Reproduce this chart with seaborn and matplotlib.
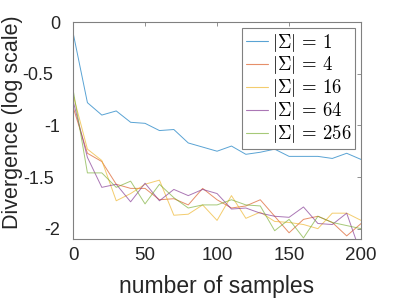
import numpy as np
import pandas as pd
import matplotlib
matplotlib.use("Agg")
import matplotlib.pyplot as plt
import matplotlib.transforms as mtransforms
import seaborn as sns

samples = [0, 10, 20, 30, 40, 50, 60, 70, 80, 90, 100, 110, 120, 130, 140, 150, 160, 170, 180, 190, 200]
div_1 = [-0.10, -0.78, -0.90, -0.86, -0.97, -0.98, -1.05, -1.04, -1.17, -1.21, -1.25,
         -1.20, -1.28, -1.26, -1.23, -1.30, -1.30, -1.30, -1.32, -1.27, -1.33]
div_4 = [-0.82, -1.27, -1.35, -1.57, -1.61, -1.61, -1.72, -1.71, -1.77, -1.61, -1.72,
         -1.80, -1.78, -1.72, -1.88, -2.04, -1.91, -1.88, -1.94, -2.07, -1.95]
div_16 = [-0.70, -1.23, -1.34, -1.73, -1.66, -1.57, -1.53, -1.87, -1.86, -1.77, -1.92,
          -1.68, -1.90, -1.84, -1.93, -1.94, -1.96, -2.00, -1.85, -1.85, -1.92]
div_64 = [-0.76, -1.31, -1.60, -1.57, -1.74, -1.56, -1.73, -1.62, -1.68, -1.62, -1.66,
          -1.81, -1.80, -1.85, -1.88, -1.89, -1.79, -1.95, -1.96, -1.85, -2.25]
div_256 = [-0.65, -1.46, -1.46, -1.60, -1.54, -1.76, -1.57, -1.70, -1.80, -1.77, -1.77,
           -1.72, -1.77, -1.78, -2.02, -1.91, -2.09, -1.88, -1.94, -1.97, -2.00]
labels = [r"$|\Sigma|\,=\,1$", r"$|\Sigma|\,=\,4$", r"$|\Sigma|\,=\,16$",
          r"$|\Sigma|\,=\,64$", r"$|\Sigma|\,=\,256$"]
x_ticks = [0, 50, 100, 150, 200]
y_ticks = [0, -0.5, -1, -1.5, -2]
y_tick_labels = ["0", "-0.5", "-1", "-1.5", "-2"]

series = [div_1, div_4, div_16, div_64, div_256]
df = pd.concat([pd.DataFrame({"samples": samples, "div": s, "set": lab})
                for s, lab in zip(series, labels)], ignore_index=True)

sns.set_style("white")
plt.rcParams["font.family"] = ["Liberation Sans", "DejaVu Sans"]
plt.rcParams["mathtext.fontset"] = "cm"

colors = ["#0072BD", "#D95319", "#EDB120", "#7E2F8E", "#77AC30"]

fig = plt.figure(figsize=(3.99, 2.99), dpi=100)
ax = fig.add_axes([0.183, 0.2007, 0.722, 0.7253])
sns.lineplot(data=df, x="samples", y="div", hue="set", palette=colors, ax=ax,
             linewidth=0.7, alpha=0.65, legend=True)

ax.set_xlim(0, 200)
ax.set_ylim(-2.1, 0)
ax.set_xticks(x_ticks)
ax.set_xticklabels([str(t) for t in x_ticks])
ax.set_yticks(y_ticks)
ax.set_yticklabels(y_tick_labels)
ax.tick_params(direction="in", length=3, width=0.6, color="#808080",
               labelsize=13.5, labelcolor="#262626", top=True, right=True)
ax.tick_params(axis="y", labelsize=13)
ax.tick_params(axis="x", pad=6)
ax.tick_params(axis="y", pad=9)
for lab in ax.get_yticklabels():
    if "." in lab.get_text():
        lab.set_transform(lab.get_transform() +
                          mtransforms.ScaledTranslation(-0.07, 0, fig.dpi_scale_trans))
for sp in ax.spines.values():
    sp.set_color("#808080")
    sp.set_linewidth(0.8)
ax.set_xlabel("number of samples", fontsize=16.5, color="#262626")
ax.set_ylabel("Divergence (log scale)", fontsize=15.5, color="#262626")
ax.xaxis.set_label_coords(0.5, -0.165)
ax.yaxis.set_label_coords(-0.172, 0.54)

leg = ax.legend(loc="upper right", fontsize=13.5, frameon=True, fancybox=False,
                edgecolor="#808080", framealpha=1, borderpad=0.2, labelspacing=0.05,
                handlelength=1.2, handletextpad=0.2, borderaxespad=0.3)
leg.get_frame().set_linewidth(0.8)
for t in leg.get_texts():
    t.set_color("black")
for h in leg.get_lines():
    h.set_linewidth(0.8)

fig.savefig("out.png", dpi=100)
